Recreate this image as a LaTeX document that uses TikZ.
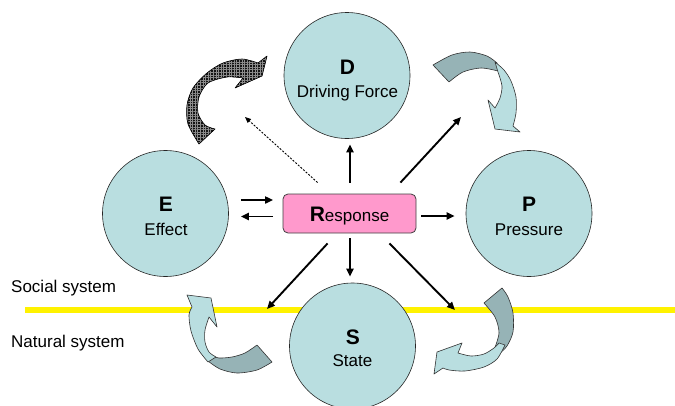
\documentclass[tikz,border=0pt]{standalone}
\usepackage{fontspec}
\setmainfont{Liberation Sans}
\usetikzlibrary{arrows.meta,patterns.meta,calc}
\definecolor{circfill}{RGB}{185,222,224}
\definecolor{arrdark}{RGB}{150,179,182}
\definecolor{pinkbox}{RGB}{255,153,204}
\begin{document}
\begin{tikzpicture}[x=1pt,y=-1pt,
  circ/.style={circle,draw=black!85,line width=0.6pt,fill=circfill,minimum size=126pt,inner sep=0pt},
  rbox/.style={draw=black!75,line width=0.8pt,fill=pinkbox,rounded corners=5pt,minimum width=133pt,minimum height=39pt,inner sep=0pt},
  big/.style={font=\fontsize{21}{24}\selectfont\bfseries,inner sep=0pt},
  small/.style={font=\fontsize{17}{20}\selectfont,inner sep=0pt},
  conn/.style={line width=1.9pt,-{Triangle[length=8pt,width=7pt]}},
  dotconn/.style={line width=0.9pt,dash pattern=on 2pt off 1.5pt,-{Triangle[length=6pt,width=5pt]}},
  cdark/.style={fill=arrdark,draw=black!80,line width=0.6pt,line join=round},
  clight/.style={fill=circfill,draw=black!80,line width=0.6pt,line join=round},
  hatched/.style={draw=black,line width=0.6pt,line join=round,
    preaction={fill=black!92},
    preaction={pattern={Lines[angle=90,distance=2.6pt,line width=0.35pt]},pattern color=black!45},
    pattern={Lines[angle=0,distance=2.6pt,line width=0.35pt]},pattern color=black!45},
]
\useasboundingbox (0,0) rectangle (675,405);
\fill[white] (0,0) rectangle (675,405);

% boundary line
\coordinate (yl1) at (25,310);
\coordinate (yl2) at (675,310);
\draw[yellow,line width=5.5pt] (yl1) -- (yl2);

% side labels
\node[small,anchor=base west] (soc) at (11,292) {Social system};
\node[small,anchor=base west] (nat) at (11,347) {Natural system};

% circles
\node[circ] (D) at (347,75.5) {};
\node[circ] (E) at (165.5,213.5) {};
\node[circ] (P) at (529,213.5) {};
\node[circ] (S) at (352.5,346) {};

\node[big,anchor=base] (Dl) at ($(D)+(0.5,-1.5)$) {D};
\node[small,anchor=base] (Dt) at ($(D)+(0.5,21.5)$) {Driving Force};
\node[big,anchor=base] (El) at ($(E)+(0.5,-2)$) {E};
\node[small,anchor=base] (Et) at ($(E)+(0.5,21.5)$) {Effect};
\node[big,anchor=base] (Pl) at ($(P)+(0,-2)$) {P};
\node[small,anchor=base] (Pt) at ($(P)+(0,21.5)$) {Pressure};
\node[big,anchor=base] (Sl) at ($(S)+(0.5,-2)$) {S};
\node[small,anchor=base] (St) at ($(S)+(0,20.5)$) {State};

% response box
\node[rbox] (R) at (349.5,213.5) {};
\node[anchor=base,inner sep=0pt] (Rt) at ($(R)+(0,8.2)$) {\fontsize{21}{24}\selectfont\bfseries R\fontsize{17}{20}\selectfont\mdseries esponse};

% free ends
\coordinate (ur) at (461,117);
\coordinate (lr) at (455,310);
\coordinate (ll) at (267,309);
\coordinate (ul) at (245,117);

% straight connectors
\draw[conn] ($(R.north)+(0.5,-11)$) -- ($(D.south)+(3,5.5)$);
\draw[conn] ($(R.south)+(0.5,5)$) -- ($(S.north)+(-2.5,-6)$);
\draw[conn] ($(R.east)+(5,2.5)$) -- ($(P.west)+(-11,2.5)$);
\draw[conn] ($(E.east)+(12,-13.5)$) -- ($(R.west)+(-9.5,-13.5)$);
\draw[conn] ($(R.west)+(-9.5,3)$) -- ($(E.east)+(12,3)$);
\draw[conn] ($(R.north east)+(-16,-11)$) -- (ur);
\draw[conn] ($(R.south east)+(-27,10)$) -- (lr);
\draw[conn] ($(R.south west)+(45,10)$) -- (ll);
\draw[dotconn] ($(R.north west)+(35,-11)$) -- (ul);

% curved arrow A (top left, patterned)
\path[hatched] plot[smooth] coordinates {(199,144) (188,124) (187,105) (193,88) (207,73) (223,63) (242,59) (258,63)}
  -- (267,56) -- (262,76) -- (235,88)
  -- plot[smooth] coordinates {(243,78) (227,77) (208,83) (199,97) (198,113) (205,125) (215,129)}
  -- cycle;

% curved arrow B (top right)
\path[cdark] plot[smooth] coordinates {(433,65) (452,55) (470,52) (487,56) (497,63)}
  -- plot[smooth] coordinates {(498,71) (481,68) (463,72) (449,82)} -- cycle;
\path[clight] plot[smooth] coordinates {(495,62) (504,70) (511,81) (516,97) (516,113) (513,126)}
  -- (520,132) -- (495,129) -- (488,100)
  -- plot[smooth] coordinates {(495,108) (500,98) (502,86) (498,72)} -- cycle;

% curved arrow C (bottom left)
\path[cdark] plot[smooth] coordinates {(257,345) (245,353) (232,357) (219,358) (212,356)}
  -- plot[smooth] coordinates {(208,361) (220,369) (237,373) (257,370) (272,362)} -- cycle;
\path[clight] plot[smooth] coordinates {(208,362) (198,349) (191,331) (189,315) (192,307)}
  -- (187,295) -- (211,298) -- (217,327)
  -- plot[smooth] coordinates {(209,317) (205,330) (205,342) (209,352) (216,357)} -- cycle;

% curved arrow D (bottom right)
\path[cdark] plot[smooth] coordinates {(502,288) (508,297) (513,313) (513,332) (507,346) (500,353)}
  -- plot[smooth] coordinates {(494,350) (499,333) (495,317) (484,303)} -- cycle;
\path[clight] plot[smooth] coordinates {(505,345) (497,359) (484,367) (465,371) (449,370) (443,368)}
  -- (434,374) -- (437,352) -- (462,343)
  -- plot[smooth] coordinates {(458,353) (471,356) (484,354) (494,348) (499,343)} -- cycle;
\end{tikzpicture}
\end{document}
